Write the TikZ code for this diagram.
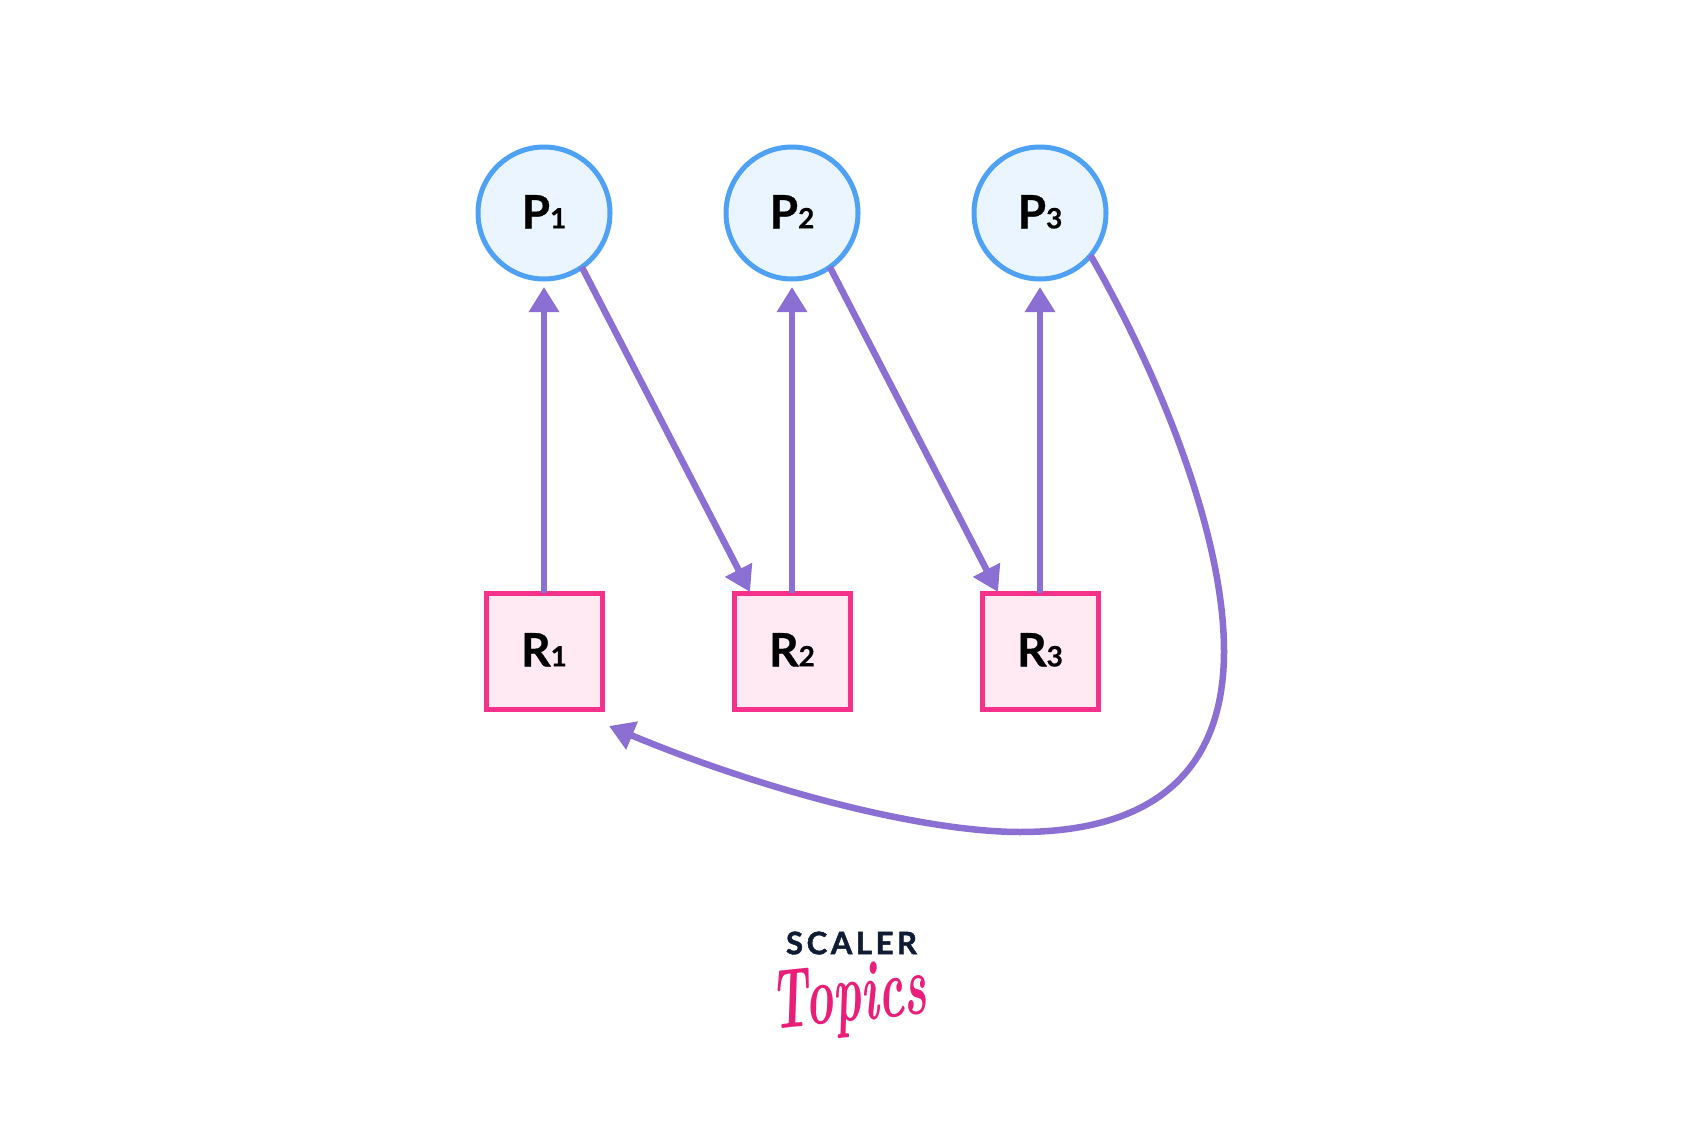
\documentclass[tikz,border=0pt]{standalone}
\usepackage{fontspec}
\setmainfont{Lato}
\usepackage{xcolor}
\usepackage{tikz}
\usetikzlibrary{arrows.meta}
\definecolor{procblue}{HTML}{4EA1F3}
\definecolor{procfill}{HTML}{EAF5FF}
\definecolor{respink}{HTML}{F5318A}
\definecolor{resfill}{HTML}{FFEAF4}
\definecolor{edgepurple}{HTML}{8B6FD3}
\definecolor{logonavy}{HTML}{0F1C33}
\definecolor{logopink}{HTML}{E91E78}
\newcommand{\lbl}[2]{\raisebox{2.5pt}{\addfontfeature{FakeBold=0.6}\fontsize{46}{46}\selectfont\bfseries #1\fontsize{28}{28}\selectfont #2}}
\tikzset{
	proc/.style={circle,draw=procblue,fill=procfill,line width=5pt,minimum size=132pt,inner sep=0pt,outer sep=0pt},
	res/.style={rectangle,draw=respink,fill=resfill,line width=5pt,minimum size=116pt,inner sep=0pt,outer sep=0pt},
	edge/.style={draw=edgepurple,line width=6.5pt,-{Triangle[width=29pt,length=25pt]}}
}
\begin{document}
\begin{tikzpicture}[x=1pt,y=-1pt,node distance=248pt]
	 \useasboundingbox (0,0) rectangle (1701,1142);
	 \node[proc] (P1) at (544,213) {\lbl{P}{1}};
	 \node[proc] (P2) [right of=P1] {\lbl{P}{2}};
	 \node[proc] (P3) [right of=P2] {\lbl{P}{3}};
	 \node[res] (R1) at (544,651) {\lbl{R}{1}};
	 \node[res] (R2) [right of=R1] {\lbl{R}{2}};
	 \node[res] (R3) [right of=R2] {\lbl{R}{3}};
	 \draw[edge,shorten >=8pt] (R1.north) -- (P1.south);
	 \draw[edge,shorten >=8pt] (R2.north) -- (P2.south);
	 \draw[edge,shorten >=8pt] (R3.north) -- (P3.south);
	 \draw[edge] (P1.-55) -- ([xshift=16pt,yshift=1pt]R2.north west);
	 \draw[edge] (P2.-55) -- ([xshift=16pt,yshift=1pt]R3.north west);
	 \draw[edge] (P3.-40) .. controls (1165,385) and (1224,540) .. (1224,651)
	   .. controls (1224,790) and (1130,832) .. (1020,832)
	   .. controls (930,832) and (775,795) .. ([xshift=7pt,yshift=-17pt]R1.south east);
	 \node[text=logonavy] (scaler) at (851.5,943) {\addfontfeature{FakeBold=1.5}\fontsize{31}{31}\selectfont\bfseries S\kern3.6pt C\kern3.6pt A\kern3.6pt L\kern3.6pt E\kern3.6pt R};
	 \node[text=logopink,rotate=6,xscale=.56] (topics) at (849,1001) {\fontsize{85}{85}\selectfont\fontspec{Latin Modern Roman}\bfseries\itshape Topics};
\end{tikzpicture}
\end{document}
